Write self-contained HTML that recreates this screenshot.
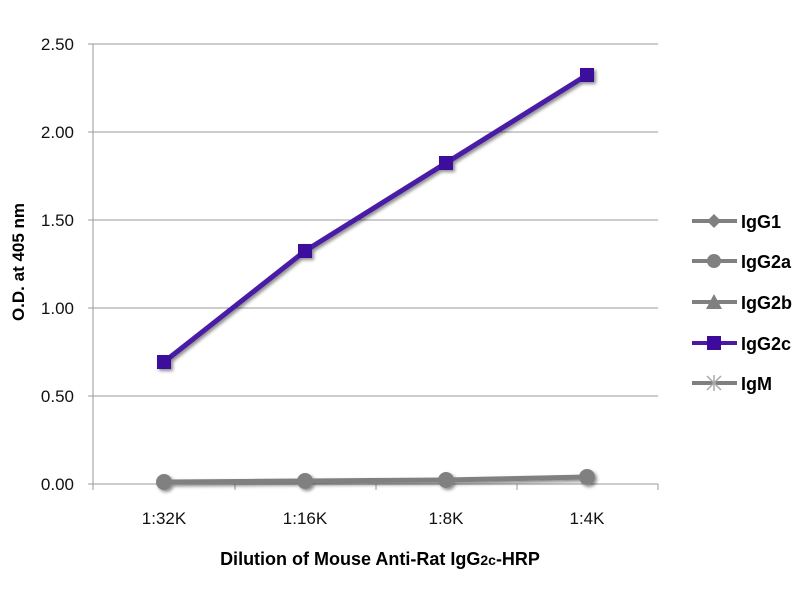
<!DOCTYPE html>
<html><head><meta charset="utf-8"><style>body{margin:0;background:#fff}</style></head><body>
<svg width="800" height="600" xmlns="http://www.w3.org/2000/svg" font-family="Liberation Sans, sans-serif">
<defs><filter id="sh" x="-50%" y="-50%" width="200%" height="200%"><feDropShadow dx="2" dy="2" stdDeviation="1.5" flood-color="#000" flood-opacity="0.45"/></filter></defs>
<g stroke="#999" stroke-width="1">
<line x1="93" y1="44" x2="658" y2="44"/><line x1="93" y1="132" x2="658" y2="132"/>
<line x1="93" y1="220" x2="658" y2="220"/><line x1="93" y1="308" x2="658" y2="308"/>
<line x1="93" y1="396" x2="658" y2="396"/><line x1="93" y1="484" x2="658" y2="484"/>
<line x1="93" y1="44" x2="93" y2="490"/>
<line x1="88" y1="44" x2="93" y2="44"/><line x1="88" y1="132" x2="93" y2="132"/><line x1="88" y1="220" x2="93" y2="220"/><line x1="88" y1="308" x2="93" y2="308"/><line x1="88" y1="396" x2="93" y2="396"/><line x1="88" y1="484" x2="93" y2="484"/>
<line x1="235" y1="484" x2="235" y2="490"/><line x1="376" y1="484" x2="376" y2="490"/><line x1="517" y1="484" x2="517" y2="490"/><line x1="658" y1="484" x2="658" y2="490"/>
</g>
<g font-size="17" fill="#111" text-anchor="end">
<text x="74" y="50">2.50</text><text x="74" y="138">2.00</text><text x="74" y="226">1.50</text><text x="74" y="314">1.00</text><text x="74" y="402">0.50</text><text x="74" y="490">0.00</text>
</g>
<g font-size="17" fill="#111" text-anchor="middle">
<text x="164" y="524">1:32K</text><text x="305" y="524">1:16K</text><text x="446" y="524">1:8K</text><text x="587" y="524">1:4K</text>
</g>
<text x="380" y="565" font-size="18" font-weight="bold" text-anchor="middle" fill="#000">Dilution of Mouse Anti-Rat IgG<tspan font-size="14">2c</tspan>-HRP</text>
<text transform="translate(24,262) rotate(-90)" font-size="17" font-weight="bold" text-anchor="middle" fill="#000">O.D. at 405 nm</text>
<g filter="url(#sh)">
<polyline points="164,482 305,481 446,480 587,477" fill="none" stroke="#808080" stroke-width="5"/>
<circle cx="164" cy="482" r="8" fill="#808080"/><circle cx="305" cy="481" r="8" fill="#808080"/><circle cx="446" cy="480" r="8" fill="#808080"/><circle cx="587" cy="477" r="8" fill="#808080"/>
<polyline points="164,362 305,251 446,163 587,75" fill="none" stroke="#4a1aa6" stroke-width="5"/>
<g fill="#3d0a9c"><rect x="157" y="355" width="14" height="14"/><rect x="298" y="244" width="14" height="14"/><rect x="439" y="156" width="14" height="14"/><rect x="580" y="68" width="14" height="14"/></g>
</g>
<g stroke-width="4">
<line x1="692" y1="221" x2="737" y2="221" stroke="#808080"/><path d="M714 214 L721 221 L714 228 L707 221Z" fill="#808080"/>
<line x1="692" y1="261" x2="737" y2="261" stroke="#808080"/><circle cx="714" cy="261" r="7" fill="#808080"/>
<line x1="692" y1="302" x2="737" y2="302" stroke="#808080"/><path d="M714 294 L722 309 L706 309Z" fill="#808080"/>
<line x1="692" y1="343" x2="737" y2="343" stroke="#4a1aa6"/><rect x="707" y="336" width="14" height="14" fill="#3d0a9c"/>
<line x1="692" y1="383" x2="737" y2="383" stroke="#808080"/><path d="M707 376 L721 390 M721 376 L707 390 M714 375 L714 391" stroke="#aaa" stroke-width="1.5"/>
</g>
<g font-size="18" font-weight="bold" fill="#000">
<text x="741" y="228">IgG1</text><text x="741" y="268">IgG2a</text><text x="741" y="309">IgG2b</text><text x="741" y="350">IgG2c</text><text x="741" y="390">IgM</text>
</g>
</svg>
</body></html>
